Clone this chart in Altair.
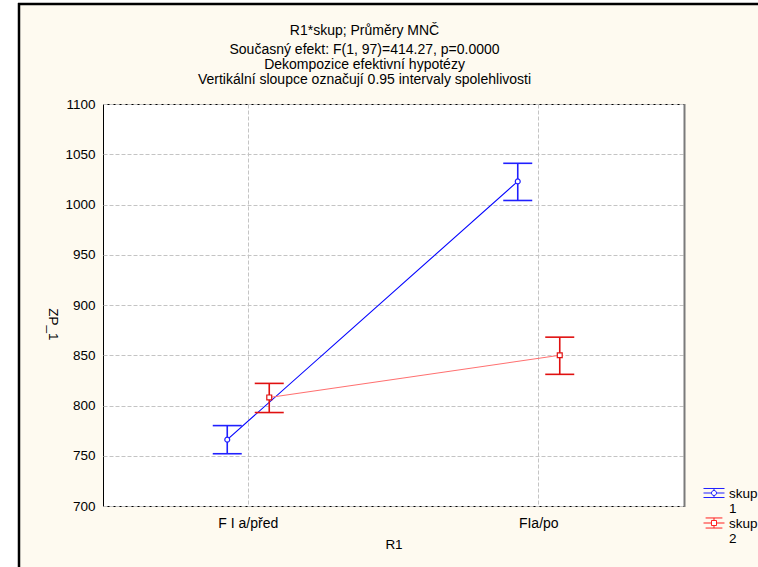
import altair as alt
import pandas as pd

FONT = "Liberation Sans"

categories = ["F I a/před", "FIa/po"]
groups = ["1", "2"]
mean_skup1 = [766, 1023]
lower_skup1 = [752, 1004]
upper_skup1 = [780, 1041]
mean_skup2 = [808, 850]
lower_skup2 = [793, 831]
upper_skup2 = [822, 868]
y_ticks = [700, 750, 800, 850, 900, 950, 1000, 1050, 1100]
legend_labels = ["skup\n1", "skup\n2"]

rows = []
for i, cat in enumerate(categories):
    rows.append({"R1": cat, "skup": "1", "mean": mean_skup1[i], "lo": lower_skup1[i], "hi": upper_skup1[i]})
    rows.append({"R1": cat, "skup": "2", "mean": mean_skup2[i], "lo": lower_skup2[i], "hi": upper_skup2[i]})
df = pd.DataFrame(rows)

W, H = 581, 402
BAND = W / 2

x_enc = alt.X(
    "R1:N", sort=categories,
    scale=alt.Scale(type="band", paddingInner=0, paddingOuter=0),
    axis=alt.Axis(title="R1", labelAngle=0, bandPosition=0.5, grid=True,
                  gridDash=[4, 2], gridColor="#c4c4c4", gridWidth=1,
                  ticks=False, domain=False, labelFont=FONT, labelFontSize=14,
                  labelColor="black", labelPadding=10, titleFont=FONT,
                  titleFontSize=13.5, titleFontWeight="normal", titleColor="black",
                  titlePadding=7),
)
xo_enc = alt.XOffset("skup:N", sort=groups,
                     scale=alt.Scale(type="point", domain=groups, padding=0,
                                     range=[BAND / 2 - 21, BAND / 2 + 21]))

y_axis = alt.Axis(title="ZP_1", values=y_ticks, format="d", grid=True, gridDash=[4, 2],
                  gridColor="#c4c4c4", gridWidth=1, ticks=False, domain=False,
                  labelFont=FONT, labelFontSize=13.5, labelColor="black",
                  labelPadding=8, titleFont=FONT, titleFontSize=13.5,
                  titleFontWeight="normal", titleColor="black", titleAngle=90,
                  titleX=-51, titleY=220, titleAlign="center", titleBaseline="middle")
y_scale = alt.Scale(domain=[700, 1100], zero=False, nice=False)

line_color = alt.Color("skup:N", scale=alt.Scale(domain=groups, range=["#0000ff", "#ff7070"]), legend=None)
err_color = alt.Color("skup:N", scale=alt.Scale(domain=groups, range=["#2020ff", "#e01010"]), legend=None)

base = alt.Chart(df)

lines = base.mark_line(strokeWidth=1.1, opacity=1).encode(
    x=x_enc, xOffset=xo_enc, y=alt.Y("mean:Q", scale=y_scale, axis=y_axis), color=line_color
)

rules = base.mark_rule(strokeWidth=1.6, opacity=1).encode(
    x=x_enc, xOffset=xo_enc, y=alt.Y("lo:Q", scale=y_scale, axis=y_axis), y2="hi:Q", color=err_color
)
cap_hi = base.mark_tick(size=29, thickness=1.6, opacity=1, orient="horizontal").encode(
    x=x_enc, xOffset=xo_enc, y=alt.Y("hi:Q", scale=y_scale, axis=y_axis), color=err_color
)
cap_lo = base.mark_tick(size=29, thickness=1.6, opacity=1, orient="horizontal").encode(
    x=x_enc, xOffset=xo_enc, y=alt.Y("lo:Q", scale=y_scale, axis=y_axis), color=err_color
)
points = base.mark_point(filled=False, fill="white", opacity=1, strokeWidth=1.2, size=24).encode(
    x=x_enc, xOffset=xo_enc, y=alt.Y("mean:Q", scale=y_scale, axis=y_axis), color=err_color,
    shape=alt.Shape("skup:N", scale=alt.Scale(domain=groups, range=["circle", "square"]), legend=None),
)

inner = alt.layer(rules, cap_hi, cap_lo, points)

one = alt.Data(values=[{"k": 1}])
# decorations: page strips outside the window frame, frame lines, plot shadow
strip_left = alt.Chart(one).mark_rect(color="white").encode(
    x=alt.value(-103), x2=alt.value(-85), y=alt.value(-104), y2=alt.value(H + 61))
strip_top = alt.Chart(one).mark_rect(color="white").encode(
    x=alt.value(-103), x2=alt.value(W + 74), y=alt.value(-104), y2=alt.value(-101))
frame_left = alt.Chart(one).mark_rule(color="black", strokeWidth=2.5).encode(
    x=alt.value(-84), y=alt.value(-101), y2=alt.value(H + 61))
frame_top = alt.Chart(one).mark_rule(color="black", strokeWidth=2.5).encode(
    x=alt.value(-85), x2=alt.value(W + 74), y=alt.value(-100))
shadow_right = alt.Chart(one).mark_rule(color="#7a7a7a", strokeWidth=2).encode(
    x=alt.value(W + 0.5), y=alt.value(0), y2=alt.value(H + 1))

# manual legend (symbol glyph = error bar + marker)
glyph_circle = ("M-1,0H-0.24M0.24,0H1M-1,-0.43H1M-1,0.43H1M0,-0.43V-0.24M0,0.24V0.43"
                "M0.24,0A0.24,0.24,0,1,1,-0.24,0A0.24,0.24,0,1,1,0.24,0")
glyph_square = ("M-1,0H-0.24M0.24,0H1M-0.8,-0.48H0.8M-0.8,0.48H0.8M0,-0.48V-0.24M0,0.24V0.48"
                "M-0.24,-0.24H0.24V0.24H-0.24Z")
leg1_sym = alt.Chart(one).mark_point(shape=glyph_circle, size=441, filled=True, fill="white",
                                     stroke="#2020ff", strokeWidth=1, opacity=1).encode(
    x=alt.value(611), y=alt.value(389))
leg2_sym = alt.Chart(one).mark_point(shape=glyph_square, size=441, filled=True, fill="white",
                                     stroke="#ff2020", strokeWidth=1, opacity=1).encode(
    x=alt.value(611), y=alt.value(419))
leg1_txt = alt.Chart(alt.Data(values=[{"t": legend_labels[0]}])).mark_text(
    align="left", baseline="alphabetic", lineBreak="\n", lineHeight=15, font=FONT,
    fontSize=13.5, color="black").encode(x=alt.value(626), y=alt.value(394), text="t:N")
leg2_txt = alt.Chart(alt.Data(values=[{"t": legend_labels[1]}])).mark_text(
    align="left", baseline="alphabetic", lineBreak="\n", lineHeight=15, font=FONT,
    fontSize=13.5, color="black").encode(x=alt.value(626), y=alt.value(424), text="t:N")

chart = alt.layer(
    strip_left, strip_top, frame_left, frame_top,
    lines, inner, shadow_right,
    leg1_sym, leg2_sym, leg1_txt, leg2_txt,
).resolve_scale(color="independent").properties(
    width=W, height=H,
    autosize=alt.AutoSizeParams(type="none"),
    padding={"left": 103, "top": 104, "right": 74, "bottom": 61},
    background="#fefaf0",
    title=alt.TitleParams(
        text="R1*skup; Průměry MNČ",
        subtitle=["Současný efekt: F(1, 97)=414.27, p=0.0000",
                  "Dekompozice efektivní hypotézy",
                  "Vertikální sloupce označují 0.95 intervaly spolehlivosti"],
        font=FONT, fontSize=14, fontWeight="normal", color="black",
        subtitleFont=FONT, subtitleFontSize=14, subtitleColor="black",
        subtitleLineHeight=15, subtitlePadding=5, anchor="middle", dx=-29, offset=-87,
    ),
).configure_view(stroke="black", strokeWidth=1, fill="white")

chart.save("out.html", embed_options={"renderer": "svg", "actions": False})
